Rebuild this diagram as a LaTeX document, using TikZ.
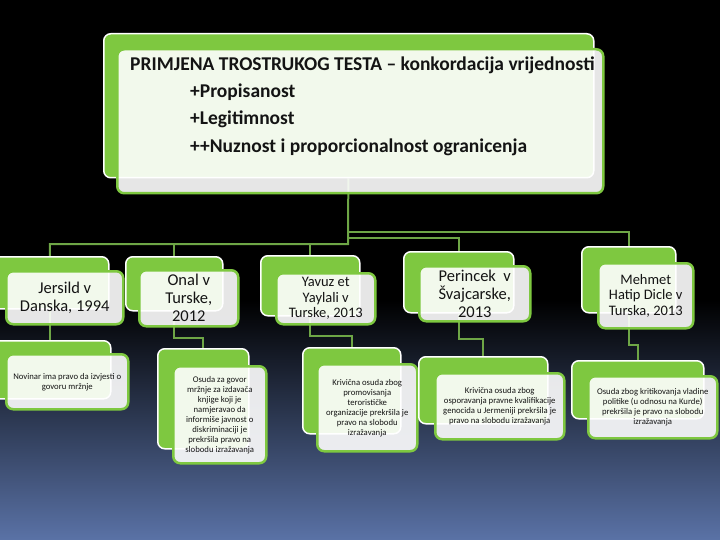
\documentclass[tikz,border=0pt]{standalone}
\usepackage{fontspec}
\setmainfont{Carlito}
\usetikzlibrary{calc}
\definecolor{cardgreen}{RGB}{126,200,64}
\definecolor{linkgreen}{RGB}{110,166,70}
\definecolor{bgblue}{RGB}{90,114,166}
\definecolor{inktext}{RGB}{20,20,20}
\pgfdeclarelayer{bg}
\pgfdeclarelayer{links}
\pgfsetlayers{bg,links,main}

\begin{document}
\begin{tikzpicture}[x=1pt,y=-1pt]
	\tikzstyle{backcard}=[draw=white,fill=cardgreen,line width=1.5pt,rounded corners=7pt,anchor=north west,inner sep=0pt]
	\tikzstyle{frontcard}=[draw=cardgreen,fill=white,fill opacity=0.9,text opacity=1,line width=2.5pt,rounded corners=7pt,anchor=north west,inner sep=0pt,align=center,text=inktext]
	\tikzstyle{link}=[draw=linkgreen,line width=2pt]
	\tikzstyle{head}=[anchor=base west,inner sep=0pt,font=\fontsize{19.5}{21}\bfseries\selectfont,text=inktext]
	\tikzstyle{case}=[font=\fontsize{16.5}{18}\selectfont]
	\tikzstyle{casesmall}=[font=\fontsize{14.5}{15.5}\selectfont]
	\tikzstyle{note}=[font=\fontsize{8.7}{10}\selectfont]
	
	\begin{pgfonlayer}{bg}
		\fill[black] (0,0) rectangle (720,540);
		\shade[top color=black,bottom color=bgblue] (0,300) rectangle (720,540);
	\end{pgfonlayer}
	\useasboundingbox (0,0) rectangle (720,540);
	
	% trostruki test
	\node[backcard,minimum width=490pt,minimum height=144pt] (topB) at (103,33) {};
	\node[frontcard,minimum width=486pt,minimum height=144pt] (top) at (116,48) {};
	\node[head] (title) at (130,71) {PRIMJENA TROSTRUKOG TESTA – konkordacija vrijednosti};
	\node[head] (crit1) at (190,98) {+Propisanost};
	\node[head] (crit2) at (190,125) {+Legitimnost};
	\node[head] (crit3) at (190,153) {++Nuznost i proporcionalnost ogranicenja};
	
	% presude
	\node[backcard,minimum width=118pt,minimum height=52pt] (jersildB) at (-10,256) {};
	\node[frontcard,case,minimum width=117pt,minimum height=53pt] (jersild) at (5,270) {Jersild v\\Danska, 1994};
	
	\node[backcard,minimum width=97pt,minimum height=54pt] (onalB) at (125,256) {};
	\node[frontcard,case,minimum width=99pt,minimum height=56pt] (onal) at (138,269) {Onal v\\Turske,\\2012};
	
	\node[backcard,minimum width=99pt,minimum height=60pt] (yavuzB) at (260,255) {};
	\node[frontcard,casesmall,minimum width=99pt,minimum height=51pt] (yavuz) at (275,272) {Yavuz et\\Yaylali v\\Turske, 2013};
	
	\node[backcard,minimum width=110pt,minimum height=61pt] (perincekB) at (403,251) {};
	\node[frontcard,case,minimum width=111pt,minimum height=55pt] (perincek) at (418,265) {Perincek~ v\\Švajcarske,\\2013};
	
	\node[backcard,minimum width=94pt,minimum height=66pt] (mehmetB) at (581,246) {};
	\node[frontcard,casesmall,minimum width=95pt,minimum height=65pt] (mehmet) at (597,262) {Mehmet\\Hatip Dicle v\\Turska, 2013};
	
	% obrazlozenja
	\node[backcard,minimum width=122pt,minimum height=58pt] (jersildDetB) at (-12,340) {};
	\node[frontcard,note,minimum width=122pt,minimum height=55pt] (jersildDet) at (5,353) {Novinar ima pravo da izvjesti o\\govoru mržnje};
	
	\node[backcard,minimum width=91pt,minimum height=100pt] (onalDetB) at (157,348) {};
	\node[frontcard,note,minimum width=93pt,minimum height=97pt] (onalDet) at (172,365) {Osuda za govor\\mržnje za izdavača\\knjige koji je\\namjeravao da\\informiše javnost o\\diskriminaciji je\\prekršila pravo na\\slobodu izražavanja};
	
	\node[backcard,minimum width=98pt,minimum height=86pt] (yavuzDetB) at (302,347) {};
	\node[frontcard,note,minimum width=100pt,minimum height=87pt] (yavuzDet) at (316,363) {Krivična osuda zbog\\promovisanja\\terorističke\\organizacije prekršila je\\pravo na slobodu\\izražavanja};
	
	\node[backcard,minimum width=129pt,minimum height=67pt] (perincekDetB) at (418,356) {};
	\node[frontcard,note,minimum width=129pt,minimum height=66pt] (perincekDet) at (434,372) {Krivična osuda zbog\\osporavanja pravne kvalifikacije\\genocida u Jermeniji prekršila je\\pravo na slobodu izražavanja};
	
	\node[backcard,minimum width=132pt,minimum height=58pt] (mehmetDetB) at (571,360) {};
	\node[frontcard,note,minimum width=129pt,minimum height=62pt] (mehmetDet) at (587,375) {Osuda zbog kritikovanja vladine\\politike (u odnosu na Kurde)\\prekršila je pravo na slobodu\\izražavanja};
	
	\begin{pgfonlayer}{links}
		\coordinate (busA) at (348,232);
		\coordinate (busB) at (348,238);
		\coordinate (busC) at (348,244);
		\draw[link] (topB) -- (busC) -| (jersildB);
		\draw[link] (busC) -| (onalB);
		\draw[link] (busC) -| (yavuzB);
		\draw[link] (busB) -| (perincekB);
		\draw[link] (busA) -| (mehmetB);
		
		\draw[link] (jersildB) -- (jersildDetB);
		\draw[link] (onalB) |- ($(onal.south -| onalDetB.north)!.5!(onalDetB.north)$) -| (onalDetB);
		\draw[link] (yavuzB) |- ($(yavuz.south -| yavuzDetB.north)!.5!(yavuzDetB.north)$) -| (yavuzDetB);
		\draw[link] (perincekB) |- ($(perincek.south -| perincekDetB.north)!.5!(perincekDetB.north)$) -| (perincekDetB);
		\draw[link] (mehmetB) |- ($(mehmet.south -| mehmetDetB.north)!.5!(mehmetDetB.north)$) -| (mehmetDetB);
	\end{pgfonlayer}
\end{tikzpicture}
\end{document}
